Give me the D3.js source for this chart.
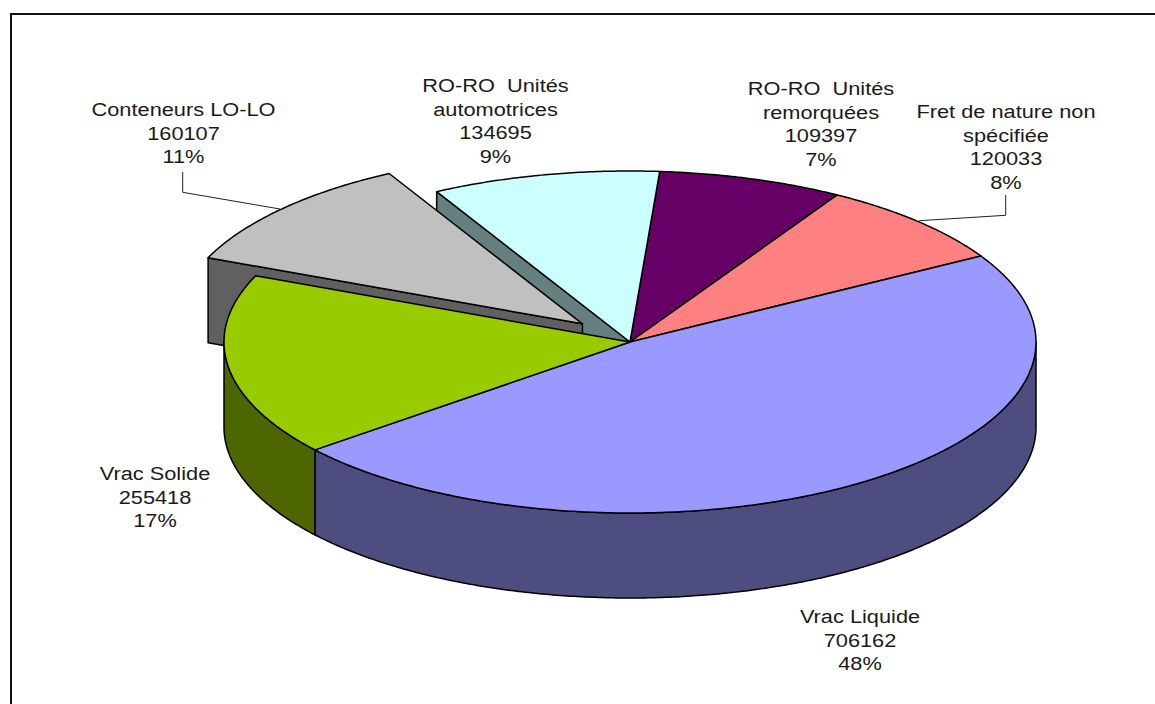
<!DOCTYPE html>
<html><head><meta charset="utf-8">
<script src="https://cdnjs.cloudflare.com/ajax/libs/d3/7.8.5/d3.min.js"></script>
<style>html,body{margin:0;padding:0;background:#fff;overflow:hidden}svg{display:block}
text{font-family:"Liberation Sans",Arial,sans-serif;fill:#1a1a1a;white-space:pre}</style>
</head><body><svg id="c" width="1155" height="704"></svg>
<script>
// Data, in drawing order clockwise from the top of the pie
const categories = ["RO-RO Unités remorquées","Fret de nature non spécifiée","Vrac Liquide","Vrac Solide","Conteneurs LO-LO","RO-RO Unités automotrices"];
const values = [109397,120033,706162,255418,160107,134695];
const percentLabels = ["7%","8%","48%","17%","11%","9%"];
const nameLines = [["RO-RO  Unités","remorquées"],["Fret de nature non","spécifiée"],["Vrac Liquide"],["Vrac Solide"],["Conteneurs LO-LO"],["RO-RO  Unités","automotrices"]];
const topColors = ["#660066","#ff8080","#9999ff","#99cc00","#c0c0c0","#ccffff"];
const sideColors = ["#330033","#804040","#4d4d80","#4d6600","#606060","#668080"];

// Layout
const cx=630, cy=342, rx=406, ry=171, depth=85, explode=0.158, startDeg=4.2;
const explodedIndex=4;
const labelFont=18, labelStretch=1.21, lineH=23.6;
const labelPos=[[821,95],[1006,118],[860,623],[155,480],[183.5,116],[495.5,92]];
const leaders={1:[[1005.7,195],[1005.7,215.3],[919,220.7]],4:[[182.7,172],[182.7,192.3],[280,209]]};

const svg=d3.select("#c");
const rad=d=>d*Math.PI/180;
const pie=d3.pie().sort(null).startAngle(rad(startDeg)).endAngle(rad(startDeg+360));
const arcs=pie(values);
const xS=d3.scaleLinear().domain([-1,1]).range([cx-rx,cx+rx]);
const yS=d3.scaleLinear().domain([-1,1]).range([cy-ry,cy+ry]);
const offset=i=>{ if(i!==explodedIndex) return [0,0];
  const m=(arcs[i].startAngle+arcs[i].endAngle)/2; return [Math.sin(m)*explode,-Math.cos(m)*explode]; };
const P=(a,i,r=1,z=0)=>{const o=offset(i);return [xS(r*Math.sin(a)+o[0]),yS(-r*Math.cos(a)+o[1])+z];};
const pathLine=d3.line();
const samples=(a0,a1)=>{const n=Math.max(2,Math.ceil(Math.abs(a1-a0)/rad(0.5)));return d3.range(n+1).map(k=>a0+(a1-a0)*k/n);};
const outline=s=>s.attr("stroke","#000").attr("stroke-width",1.5).attr("stroke-linejoin","round");

function radialWall(i,a){
  const pts=[P(a,i,0,0),P(a,i,1,0),P(a,i,1,depth),P(a,i,0,depth)];
  outline(svg.append("path").attr("d",pathLine(pts)+"Z").attr("fill",sideColors[i]));
}
function outerWall(i,a0,a1){
  const s=samples(a0,a1);
  const pts=s.map(a=>P(a,i,1,0)).concat(s.slice().reverse().map(a=>P(a,i,1,depth)));
  outline(svg.append("path").attr("d",pathLine(pts)+"Z").attr("fill",sideColors[i]));
}
function topFace(i){
  const d=arcs[i];
  const pts=[P(0,i,0,0)].concat(samples(d.startAngle,d.endAngle).map(a=>P(a,i)));
  outline(svg.append("path").attr("d",pathLine(pts)+"Z").attr("fill",topColors[i]));
}

// frame
svg.append("path").attr("d",pathLine([[11,704],[11,14],[1155,14]])).attr("fill","none").attr("stroke","#111").attr("stroke-width",2);

// leader lines
Object.values(leaders).forEach(p=>svg.append("path").attr("d",pathLine(p)).attr("fill","none").attr("stroke","#222").attr("stroke-width",1));

// back faces exposed by the exploded wedge
radialWall(5,arcs[5].startAngle);
radialWall(4,arcs[4].startAngle);
topFace(4);
// front walls
const front=[rad(90),rad(270)];
outerWall(2,Math.max(arcs[2].startAngle,front[0]),arcs[2].endAngle);
outerWall(3,arcs[3].startAngle,front[1]);
// top faces
[0,1,2,3,5].forEach(topFace);

// labels
values.forEach((v,i)=>{
  const lines=[...nameLines[i],String(v),percentLabels[i]];
  const [x,y]=labelPos[i];
  lines.forEach((t,k)=>{
    svg.append("text").attr("text-anchor","middle").attr("font-size",labelFont)
      .attr("transform",`translate(${x},${y+k*lineH}) scale(${labelStretch},1)`).text(t);
  });
});
</script></body></html>
